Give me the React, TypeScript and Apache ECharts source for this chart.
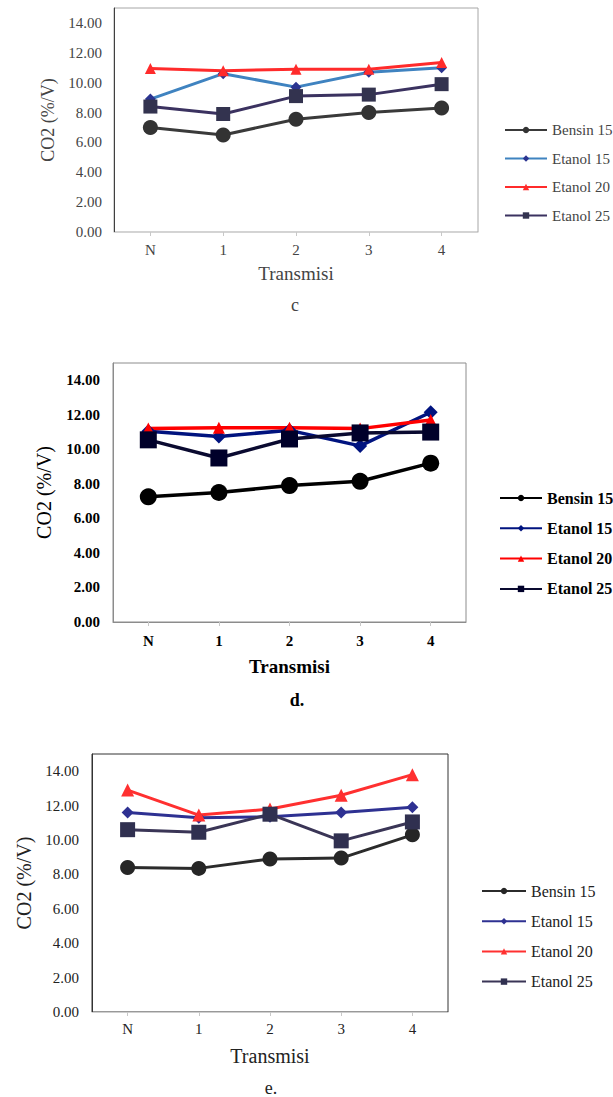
import React, { useEffect, useRef } from "react";
import * as echarts from "echarts";

// ---------- data ----------
const categories = ["N", "1", "2", "3", "4"];
const seriesNames = ["Bensin 15", "Etanol 15", "Etanol 20", "Etanol 25"];
const seriesSymbols = ["circle", "diamond", "triangle", "rect"];
const yAxisMin = 0;
const yAxisMax = 15;
const yAxisInterval = 2;
const xAxisTitle = "Transmisi";
const yAxisTitle = "CO2 (%/V)";

// panel c
const cBensin15 = [7.0, 6.5, 7.55, 8.0, 8.3];
const cEtanol15 = [8.9, 10.6, 9.7, 10.7, 11.0];
const cEtanol20 = [10.95, 10.8, 10.9, 10.9, 11.35];
const cEtanol25 = [8.4, 7.9, 9.1, 9.2, 9.9];

// panel d
const dBensin15 = [7.25, 7.5, 7.9, 8.15, 9.2];
const dEtanol15 = [11.05, 10.75, 11.1, 10.2, 12.15];
const dEtanol20 = [11.2, 11.25, 11.25, 11.2, 11.7];
const dEtanol25 = [10.55, 9.5, 10.6, 10.95, 11.0];

// panel e
const eBensin15 = [8.4, 8.35, 8.9, 8.95, 10.3];
const eEtanol15 = [11.6, 11.3, 11.35, 11.6, 11.9];
const eEtanol20 = [12.9, 11.45, 11.8, 12.6, 13.8];
const eEtanol25 = [10.6, 10.45, 11.5, 9.95, 11.05];

const SERIF = "Liberation Serif";

type Panel = {
  top: number;
  height: number;
  caption: string;
  captionX: number;
  captionY: number;
  captionWeight: string;
  grid: { left: number; top: number; width: number; height: number };
  data: number[][];
  lineColors: string[];
  markerColors: string[];
  symbolSizes: number[];
  lineWidth: number;
  boxColor: string;
  yLineColor: string;
  xLineColor: string;
  textColor: string;
  tickSize: number;
  tickWeight: string;
  titleSize: number;
  titleWeight: string;
  yTitleSize: number;
  yLabelMargin: number;
  xLabelMargin: number;
  xNameGap: number;
  yNameGap: number;
  legendLeft: number;
  legendTop: number;
  legendGap: number;
  legendSize: number;
  legendWeight: string;
  legendItemWidth: number;
};

const panels: Panel[] = [
  {
    top: 0,
    height: 330,
    caption: "c",
    captionX: 295,
    captionY: 305,
    captionWeight: "normal",
    grid: { left: 114, top: 8, width: 364, height: 224 },
    data: [cBensin15, cEtanol15, cEtanol20, cEtanol25],
    lineColors: ["#3a3a3a", "#3f83c0", "#ff2b2b", "#3b3260"],
    markerColors: ["#333333", "#2b3490", "#ff2b2b", "#33334f"],
    symbolSizes: [15, 11, 11, 14],
    lineWidth: 3,
    boxColor: "#a6a6a6",
    yLineColor: "#404040",
    xLineColor: "#d4d4d4",
    textColor: "#444444",
    tickSize: 15,
    tickWeight: "normal",
    titleSize: 19,
    titleWeight: "normal",
    yTitleSize: 18,
    yLabelMargin: 12,
    xLabelMargin: 10,
    xNameGap: 32,
    yNameGap: 57,
    legendLeft: 499,
    legendTop: 117.5,
    legendGap: 13.5,
    legendSize: 15,
    legendWeight: "normal",
    legendItemWidth: 42,
  },
  {
    top: 340,
    height: 380,
    caption: "d.",
    captionX: 297,
    captionY: 700,
    captionWeight: "bold",
    grid: { left: 113, top: 363, width: 353, height: 259 },
    data: [dBensin15, dEtanol15, dEtanol20, dEtanol25],
    lineColors: ["#000000", "#00137f", "#ff0000", "#0a0a30"],
    markerColors: ["#000000", "#00137f", "#ff0000", "#00002a"],
    symbolSizes: [17, 14, 12, 17],
    lineWidth: 3.5,
    boxColor: "#8c8c8c",
    yLineColor: "#8c8c8c",
    xLineColor: "#8c8c8c",
    textColor: "#000000",
    tickSize: 15,
    tickWeight: "bold",
    titleSize: 19,
    titleWeight: "bold",
    yTitleSize: 20,
    yLabelMargin: 13,
    xLabelMargin: 11,
    xNameGap: 35,
    yNameGap: 59,
    legendLeft: 494,
    legendTop: 485,
    legendGap: 14.3,
    legendSize: 16,
    legendWeight: "bold",
    legendItemWidth: 42,
  },
  {
    top: 725,
    height: 372,
    caption: "e.",
    captionX: 271,
    captionY: 1088,
    captionWeight: "normal",
    grid: { left: 92, top: 754, width: 356, height: 258 },
    data: [eBensin15, eEtanol15, eEtanol20, eEtanol25],
    lineColors: ["#2b2b2b", "#2e3192", "#ff3030", "#3a3556"],
    markerColors: ["#262626", "#2e3192", "#ff3030", "#303050"],
    symbolSizes: [15, 12, 13, 15],
    lineWidth: 3,
    boxColor: "#333333",
    yLineColor: "#333333",
    xLineColor: "#cfcfcf",
    textColor: "#222222",
    tickSize: 15,
    tickWeight: "normal",
    titleSize: 20,
    titleWeight: "normal",
    yTitleSize: 20,
    yLabelMargin: 13,
    xLabelMargin: 9,
    xNameGap: 34,
    yNameGap: 56,
    legendLeft: 476,
    legendTop: 878,
    legendGap: 14.2,
    legendSize: 16,
    legendWeight: "normal",
    legendItemWidth: 44,
  },
];

function buildOption(p: Panel) {
  const textBase = { fontFamily: SERIF, color: p.textColor };
  return {
    animation: false,
    textStyle: { fontFamily: SERIF },
    grid: {
      left: p.grid.left,
      top: p.grid.top - p.top,
      width: p.grid.width,
      height: p.grid.height,
      show: true,
      borderColor: p.boxColor,
      borderWidth: 1,
      backgroundColor: "transparent",
      containLabel: false,
    },
    xAxis: {
      type: "category",
      data: categories,
      boundaryGap: true,
      name: xAxisTitle,
      nameLocation: "middle",
      nameGap: p.xNameGap,
      nameTextStyle: {
        ...textBase,
        fontSize: p.titleSize,
        fontWeight: p.titleWeight,
      },
      axisLine: { show: true, lineStyle: { color: p.xLineColor, width: 1 } },
      axisTick: {
        show: true,
        alignWithLabel: true,
        length: 4,
        lineStyle: { color: "#c8c8c8" },
      },
      axisLabel: {
        ...textBase,
        fontSize: p.tickSize,
        fontWeight: p.tickWeight,
        margin: p.xLabelMargin,
      },
      splitLine: { show: false },
    },
    yAxis: {
      type: "value",
      min: yAxisMin,
      max: yAxisMax,
      interval: yAxisInterval,
      name: yAxisTitle,
      nameLocation: "middle",
      nameGap: p.yNameGap,
      nameTextStyle: {
        ...textBase,
        fontSize: p.yTitleSize,
        fontWeight: "normal",
      },
      axisLine: { show: true, lineStyle: { color: p.yLineColor, width: 1 } },
      axisTick: { show: false },
      axisLabel: {
        ...textBase,
        fontSize: p.tickSize,
        fontWeight: p.tickWeight,
        margin: p.yLabelMargin,
        showMaxLabel: false,
        formatter: (v: number) => v.toFixed(2),
      },
      splitLine: { show: false },
    },
    legend: {
      orient: "vertical",
      left: p.legendLeft,
      top: p.legendTop - p.top,
      itemWidth: p.legendItemWidth,
      itemHeight: 8,
      itemGap: p.legendGap,
      selectedMode: false,
      data: seriesNames,
      textStyle: {
        fontFamily: SERIF,
        fontSize: p.legendSize,
        fontWeight: p.legendWeight,
        color: p.textColor,
      },
    },
    series: seriesNames.map((name, i) => ({
      type: "line",
      name,
      data: p.data[i],
      symbol: seriesSymbols[i],
      symbolSize: p.symbolSizes[i],
      showAllSymbol: true,
      lineStyle: { color: p.lineColors[i], width: p.lineWidth },
      itemStyle: { color: p.markerColors[i] },
      emphasis: { disabled: true },
    })),
    graphic: [
      {
        type: "text",
        x: p.captionX,
        y: p.captionY - p.top,
        style: {
          text: p.caption,
          fontFamily: SERIF,
          fontSize: 18,
          fontWeight: p.captionWeight,
          fill: p.textColor,
          textAlign: "center",
          textVerticalAlign: "middle",
        },
      },
    ],
  };
}

function PanelChart({ panel }: { panel: Panel }) {
  const ref = useRef<HTMLDivElement>(null);
  useEffect(() => {
    if (!ref.current) return;
    const chart = echarts.init(ref.current, undefined, { renderer: "svg" });
    chart.setOption(buildOption(panel) as any);
    return () => chart.dispose();
  }, [panel]);
  return (
    <div
      ref={ref}
      style={{
        position: "absolute",
        left: 0,
        top: panel.top,
        width: 613,
        height: panel.height,
      }}
    />
  );
}

export default function App() {
  return (
    <div
      style={{
        position: "absolute",
        left: 0,
        top: 0,
        width: 613,
        height: 1097,
        background: "#ffffff",
        overflow: "hidden",
      }}
    >
      {panels.map((p) => (
        <PanelChart key={p.caption} panel={p} />
      ))}
    </div>
  );
}
